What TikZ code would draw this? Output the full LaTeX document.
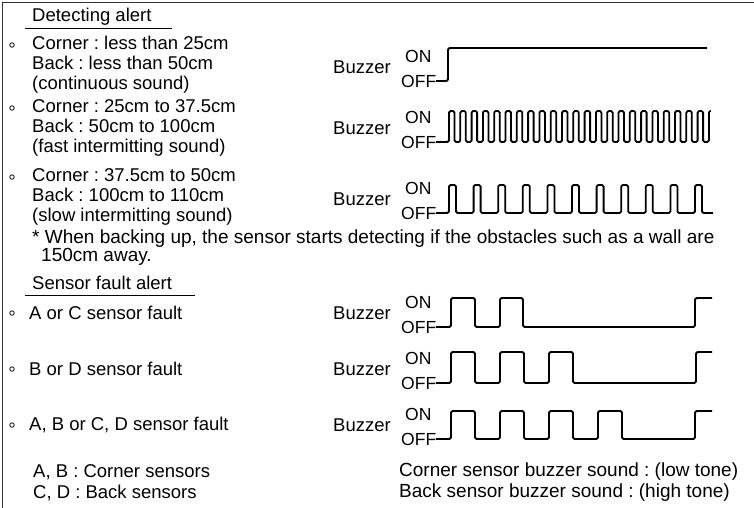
\documentclass[tikz,border=0pt]{standalone}
\usepackage{fontspec}
\setmainfont{Liberation Sans}
\frenchspacing
\begin{document}
\begin{tikzpicture}[x=1pt,y=-1pt,
  txt/.style={anchor=west, inner sep=0pt, align=left, font=\fontsize{18.5}{20}\selectfont},
  lvl/.style={anchor=west, inner sep=0pt, font=\fontsize{17.5}{18}\selectfont},
  bul/.style={circle, draw, line width=0.8pt, inner sep=0pt, minimum size=4.5pt},
  wave/.style={line width=1.8pt, line join=round, rounded corners=1.5pt}
  ]
\useasboundingbox (0,0) rectangle (754,508);
\draw[line width=1.3pt, black!80] (2.5,508) -- (2.5,2.5) -- (754,2.5);

%---------------- Detecting alert ----------------
\node[txt] (head1) at (32,17) {Detecting alert};
\draw[line width=1pt] (25,29) -- (172,29);

\node[bul] (b1) at (12,45) {};
\node[txt] (item1) at (32,65) {Corner : less than 25cm\\Back : less than 50cm\\(continuous sound)};
\node[bul] (b2) at (12,108) {};
\node[txt] (item2) at (32,128) {Corner : 25cm to 37.5cm\\Back : 50cm to 100cm\\(fast intermitting sound)};
\node[bul] (b3) at (12,177) {};
\node[txt] (item3) at (32,197) {Corner : 37.5cm to 50cm\\Back : 100cm to 110cm\\(slow intermitting sound)};

% buzzer labels
\foreach \n/\l in {1/81,2/142,3/213,4/327,5/383,6/439}{
  \node[txt] (buz\n) at (333,\l-14) {Buzzer};
  \node[lvl] (on\n) at (405,\l-25) {ON};
  \node[lvl] (off\n) at (401,\l) {OFF};
}

% continuous
\draw[wave] (436,81) -- (448,81) -- (448,48) -- (707,48);
% fast
\draw[wave] (436,142) -- (449,142)
  foreach \i in {1,...,23}{ -- ++(0,-31) -- ++(5.5,0) -- ++(0,31) -- ++(5.8,0) }
  -- ++(0,-31) -- ++(2,0);
% slow
\draw[wave] (436,213) -- (449,213)
  foreach \i in {1,...,10}{ -- ++(0,-28) -- ++(7,0) -- ++(0,28) -- ++(17.6,0) }
  -- ++(0,-28) -- ++(7,0) -- ++(0,28) -- (713,213);

\node[txt, font=\fontsize{19}{20}\selectfont] (note) at (32,239) {* When backing up, the sensor starts detecting if the obstacles such as a wall are};
\node[txt, font=\fontsize{19}{20}\selectfont] (note2) at (41,257) {150cm away.};

%---------------- Sensor fault alert ----------------
\node[txt] (head2) at (32,283) {Sensor fault alert};
\draw[line width=1pt] (25,295) -- (195,295);

\node[bul] (b4) at (12,313) {};
\node[txt] (fault1) at (29,313) {A or C sensor fault};
\node[bul] (b5) at (12,369) {};
\node[txt] (fault2) at (29,369) {B or D sensor fault};
\node[bul] (b6) at (12,425) {};
\node[txt] (fault3) at (29,425) {A, B or C, D sensor fault};

\draw[wave] (436,327) -- (451,327) -- (451,298) -- (475,298) -- (475,327)
  -- (500,327) -- (500,298) -- (523,298) -- (523,327) -- (695,327) -- (695,298) -- (712,298);
\draw[wave] (436,383) -- (451,383)
  foreach \i in {1,2,3}{ -- ++(0,-31) -- ++(24,0) -- ++(0,31) -- ++(25,0) }
  -- (696,383) -- (696,352) -- (712,352);
\draw[wave] (436,439) -- (451,439)
  foreach \i in {1,...,4}{ -- ++(0,-28) -- ++(24,0) -- ++(0,28) -- ++(25,0) }
  -- (695,439) -- (695,411) -- (712,411);

\node[txt] (sens1) at (33,472) {A, B : Corner sensors};
\node[txt] (sens2) at (33,493) {C, D : Back sensors};
\node[txt, font=\fontsize{19}{20}\selectfont] (tone1) at (399,472) {Corner sensor buzzer sound : (low tone)};
\node[txt, font=\fontsize{19}{20}\selectfont] (tone2) at (399,493) {Back sensor buzzer sound : (high tone)};
\end{tikzpicture}
\end{document}
